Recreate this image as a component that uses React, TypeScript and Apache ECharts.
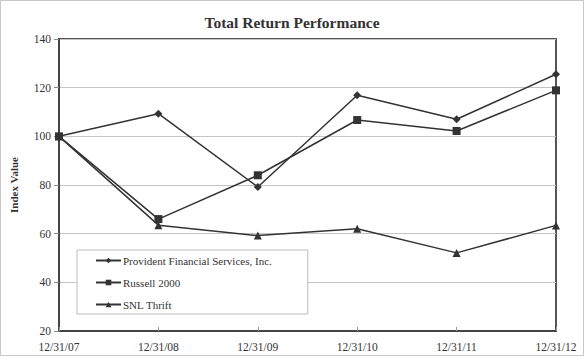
import React, { useEffect, useRef } from "react";
import * as echarts from "echarts";

const categories = ["12/31/07", "12/31/08", "12/31/09", "12/31/10", "12/31/11", "12/31/12"];
const provident = [100, 109.3, 79.2, 116.9, 107.0, 125.5];
const russell = [100, 66.0, 84.0, 106.7, 102.2, 118.9];
const snlThrift = [100, 63.5, 59.2, 62.0, 52.1, 63.4];
const seriesNames = ["Provident Financial Services, Inc.", "Russell 2000", "SNL Thrift"];

const FONT = "Liberation Serif";
const LINE = "#333333";

export default function App() {
  const ref = useRef<HTMLDivElement>(null);
  useEffect(() => {
    if (!ref.current) return;
    const chart = echarts.init(ref.current, undefined, { renderer: "svg" });
    const mk = (name: string, data: number[], symbol: string, size: number) => ({
      name,
      type: "line",
      data,
      symbol,
      symbolSize: size,
      showAllSymbol: true,
      lineStyle: { color: LINE, width: 1.5 },
      itemStyle: { color: LINE },
    });
    chart.setOption({
      animation: false,
      backgroundColor: "#ffffff",
      textStyle: { fontFamily: FONT },
      title: {
        text: "Total Return Performance",
        left: "center",
        top: 9,
        textStyle: { fontFamily: FONT, fontWeight: "bold", fontSize: 15.5, color: "#333" },
      },
      graphic: [
        {
          type: "rect",
          shape: { x: 0.5, y: 0.5, width: 583, height: 355 },
          style: { fill: "none", stroke: "#c8c8c8", lineWidth: 1 },
          silent: true,
          z: -1,
        },
      ],
      legend: {
        orient: "vertical",
        left: 77,
        top: 250,
        padding: [5, 36, 4, 18],
        itemGap: 11,
        itemWidth: 25,
        itemHeight: 7,
        borderColor: "#bbbbbb",
        borderWidth: 1,
        backgroundColor: "#ffffff",
        textStyle: { fontFamily: FONT, fontSize: 11, color: "#333", padding: [0, 0, 0, -3] },
        data: seriesNames,
      },
      grid: {
        left: 55,
        right: 28,
        top: 39,
        bottom: 25,
        show: true,
        borderColor: "#555",
        borderWidth: 2,
        containLabel: false,
      },
      xAxis: {
        type: "category",
        data: categories,
        boundaryGap: false,
        axisLine: { lineStyle: { color: "#444", width: 2 } },
        axisTick: { show: true, inside: true, length: 4, lineStyle: { color: "#999" } },
        axisLabel: { fontFamily: FONT, fontSize: 11.5, color: "#333", margin: 10 },
        splitLine: { show: false },
      },
      yAxis: {
        type: "value",
        min: 20,
        max: 140,
        interval: 20,
        name: "Index Value",
        nameLocation: "middle",
        nameGap: 40,
        nameTextStyle: { fontFamily: FONT, fontSize: 11, fontWeight: "bold", color: "#333" },
        axisLine: { show: true, lineStyle: { color: "#444", width: 2 } },
        axisTick: { show: true, length: 5, lineStyle: { color: "#888" } },
        axisLabel: { fontFamily: FONT, fontSize: 11.5, color: "#333", margin: 8 },
        splitLine: { show: true, lineStyle: { color: "#c4c4c4", width: 1 } },
      },
      series: [
        mk(seriesNames[0], provident, "diamond", 8),
        mk(seriesNames[1], russell, "rect", 8),
        mk(seriesNames[2], snlThrift, "triangle", 8),
      ],
    });
    return () => chart.dispose();
  }, []);
  return <div ref={ref} style={{ width: 584, height: 356, position: "absolute", left: 0, top: 0 }} />;
}
